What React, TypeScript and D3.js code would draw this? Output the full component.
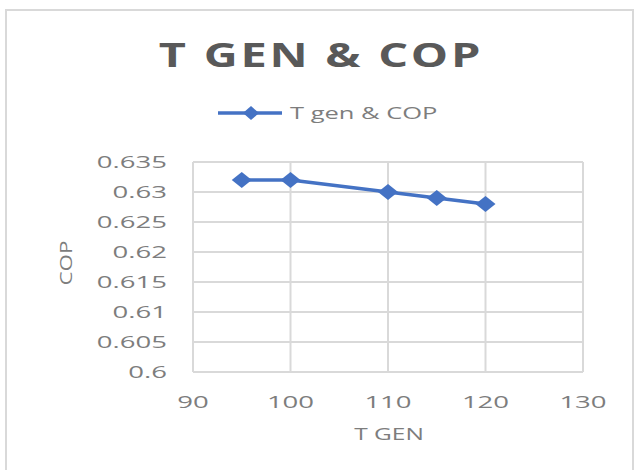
import * as d3 from 'd3';

// data
const tGen = [95, 100, 110, 115, 120];
const cop = [0.632, 0.632, 0.63, 0.629, 0.628];
const xTicks = [90, 100, 110, 120, 130];
const yTicks = [0.6, 0.605, 0.61, 0.615, 0.62, 0.625, 0.63, 0.635];

const W = 638;
const H = 470;
const plot = { left: 193, right: 583, top: 162, bottom: 372 };
const FONT = "'Open Sans', sans-serif";
const BLUE = '#4472C4';
const GRID = '#d9d9d9';
const TXT = '#7d7d7d';

const diamond = (x: number, y: number, rx: number, ry: number) =>
  `M${x},${y - ry}L${x + rx},${y}L${x},${y + ry}L${x - rx},${y}Z`;

// the reference text is stretched horizontally, so scale it around its anchor
const Label = ({ x, y, anchor = 'middle', size, sx = 1.4, spacing = 0, color = TXT, weight = 400, rotate = 0, children }: any) => (
  <text
    transform={`translate(${x},${y}) rotate(${rotate}) scale(${sx},1)`}
    textAnchor={anchor}
    fontSize={size}
    fontWeight={weight}
    letterSpacing={spacing}
    fill={color}
    fontFamily={FONT}
  >
    {children}
  </text>
);

export default function App() {
  const x = d3.scaleLinear().domain([90, 130]).range([plot.left, plot.right]);
  const y = d3.scaleLinear().domain([0.6, 0.635]).range([plot.bottom, plot.top]);
  const pts = tGen.map((t, i) => [t, cop[i]] as [number, number]);
  const line = d3.line<[number, number]>().x(d => x(d[0])).y(d => y(d[1]));

  return (
    <svg width={W} height={H} style={{ position: 'absolute', left: 0, top: 0, background: '#fff' }}>
      <rect x={6} y={10} width={627} height={470} fill="#fff" stroke={GRID} strokeWidth={2} />

      <Label x={321} y={67} size={34} sx={1.38} spacing={2} weight={700} color="#595959">T GEN &amp; COP</Label>

      {/* legend */}
      <line x1={218} x2={282} y1={113} y2={113} stroke={BLUE} strokeWidth={3.5} />
      <path d={diamond(251, 113, 8, 7)} fill={BLUE} />
      <Label x={290} y={119} anchor="start" size={17} sx={1.5}>T gen &amp; COP</Label>

      {/* grid */}
      {yTicks.map(t => (
        <line key={'y' + t} x1={plot.left} x2={plot.right} y1={y(t)} y2={y(t)} stroke={GRID} strokeWidth={2} />
      ))}
      {xTicks.map(t => (
        <line key={'x' + t} x1={x(t)} x2={x(t)} y1={plot.top} y2={plot.bottom} stroke={GRID} strokeWidth={2} />
      ))}

      {/* tick labels */}
      {yTicks.map(t => (
        <Label key={'yl' + t} x={167} y={y(t) + 6} anchor="end" size={17} sx={1.62}>{String(+t.toFixed(3))}</Label>
      ))}
      {xTicks.map(t => (
        <Label key={'xl' + t} x={x(t)} y={408} size={17} sx={1.62}>{t}</Label>
      ))}

      {/* axis titles */}
      <Label x={389} y={440} size={16} sx={1.53}>T GEN</Label>
      <Label x={72} y={(plot.top + plot.bottom) / 2 - 4} size={16} sx={1.4} rotate={-90}>COP</Label>

      {/* series */}
      <path d={line(pts) || ''} fill="none" stroke={BLUE} strokeWidth={3.5} strokeLinejoin="round" />
      {pts.map((p, i) => (
        <path key={i} d={diamond(x(p[0]), y(p[1]), 10, 8)} fill={BLUE} />
      ))}
    </svg>
  );
}
